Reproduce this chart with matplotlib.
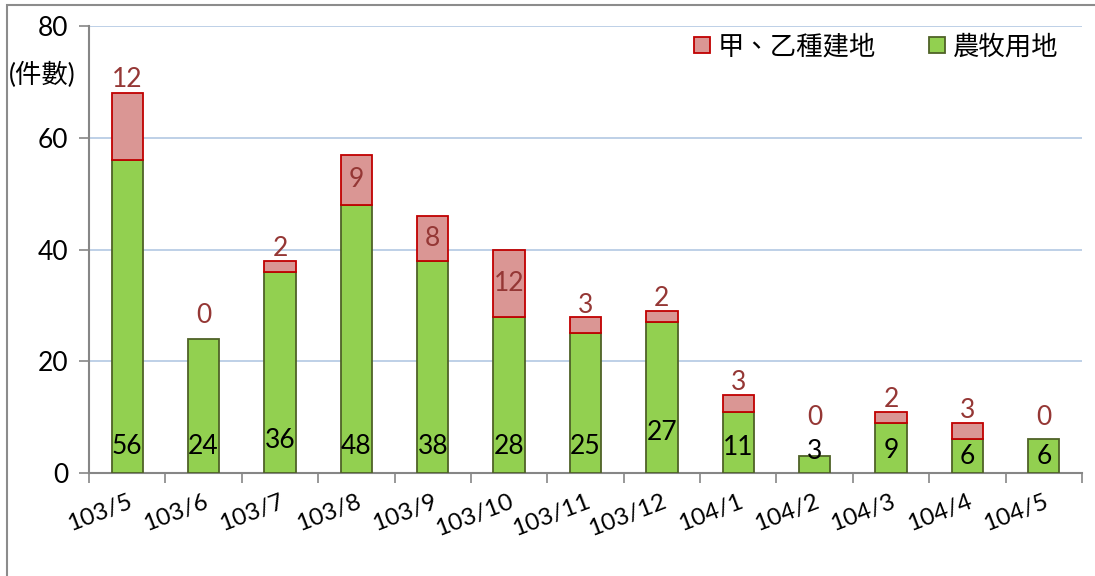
import matplotlib
matplotlib.use("Agg")
import matplotlib.pyplot as plt
from matplotlib.patches import Rectangle
import numpy as np

categories = ["103/5", "103/6", "103/7", "103/8", "103/9", "103/10", "103/11",
              "103/12", "104/1", "104/2", "104/3", "104/4", "104/5"]
farm = [56, 24, 36, 48, 38, 28, 25, 27, 11, 3, 9, 6, 6]
building = [12, 0, 2, 9, 8, 12, 3, 2, 3, 0, 2, 3, 0]
series_names = ["甲、乙種建地", "農牧用地"]
yticks = [0, 20, 40, 60, 80]

# label placement styles
red_inside = [False, False, False, True, True, True, False, False, False, False, False, False, False]
green_label_y = [4.7, 4.7, 5.9, 4.7, 4.7, 4.7, 4.7, 7.2, 4.6, 3.8, 4.1, 2.9, 2.9]
red_above_gap = [1, 8, 0, 1, 1, 1, -1, 0, 0, 19, 0, 0, 7]

FONT = ["Lato", "Noto Sans CJK TC", "DejaVu Sans"]
plt.rcParams["font.family"] = FONT
FS = 19

fig = plt.figure(figsize=(10.95, 5.76), dpi=100)
ax = fig.add_axes([89/1095, 1 - 473/576, (1082 - 89)/1095, (473 - 26)/576])

# outer chart frame
fig.patches.append(Rectangle((7/1095, -0.05), 1.2, 1 - 5/576 + 0.05, transform=fig.transFigure,
                             fill=False, edgecolor="#8c8c8c", linewidth=1.5))

x = np.arange(len(categories))
w = 0.41
green_face, green_edge = "#92D050", "#4F6228"
red_face, red_edge = "#DA9694", "#C00000"

ax.bar(x, farm, width=w, color=green_face, edgecolor=green_edge, linewidth=1.3,
       label=series_names[1], zorder=3)
red_edges = [red_edge if b > 0 else "none" for b in building]
ax.bar(x, building, width=w, bottom=farm, color=red_face, edgecolor=red_edges,
       linewidth=1.3, label=series_names[0], zorder=3)

for i in range(len(categories)):
    ax.text(x[i], green_label_y[i], str(farm[i]), ha="center", va="center",
            fontsize=FS, color="black", zorder=5)
    top = farm[i] + building[i]
    if red_inside[i]:
        ax.text(x[i], farm[i] + building[i] / 2, str(building[i]), ha="center",
                va="center", fontsize=FS, color="#953735", zorder=5)
    else:
        ax.annotate(str(building[i]), (x[i], top), xytext=(0, red_above_gap[i]),
                    textcoords="offset points", ha="center", va="bottom",
                    fontsize=FS, color="#953735", zorder=5)

ax.set_xlim(-0.5, len(categories) - 0.5)
ax.set_ylim(0, 80)
ax.set_yticks(yticks)
ax.set_yticklabels([str(v) for v in yticks], fontsize=FS)
ax.yaxis.grid(True, color="#B9CDE5", linewidth=1.3, zorder=0)
ax.set_axisbelow(True)

ax.set_xticks(np.arange(-0.5, len(categories), 1.0))
ax.set_xticklabels([])
ax.set_xticks(x, minor=True)
ax.set_xticklabels(categories, minor=True, rotation=21, ha="right",
                   rotation_mode="anchor", fontsize=17.5)
ax.tick_params(axis="x", which="minor", length=0, pad=13)
ax.tick_params(axis="x", which="major", length=7, color="#868686", width=1.2)
ax.tick_params(axis="y", length=7, color="#868686", width=1.2, pad=8)

for s in ["top", "right"]:
    ax.spines[s].set_visible(False)
for s in ["left", "bottom"]:
    ax.spines[s].set_color("#868686")
    ax.spines[s].set_linewidth(1.5)

fig.text(9/1095, 1 - 75/576, "(件數)", fontsize=FS, ha="left", va="center")

handles, labels = ax.get_legend_handles_labels()
ax.legend(handles[::-1], labels[::-1], loc="upper right", ncol=2, frameon=False,
          handlelength=0.6, handleheight=0.6, columnspacing=2.0,
          handletextpad=0.3, bbox_to_anchor=(1.0, 1.037),
          prop={"family": ["Noto Sans CJK TC"], "size": 19})

fig.savefig("out.png", dpi=100)
